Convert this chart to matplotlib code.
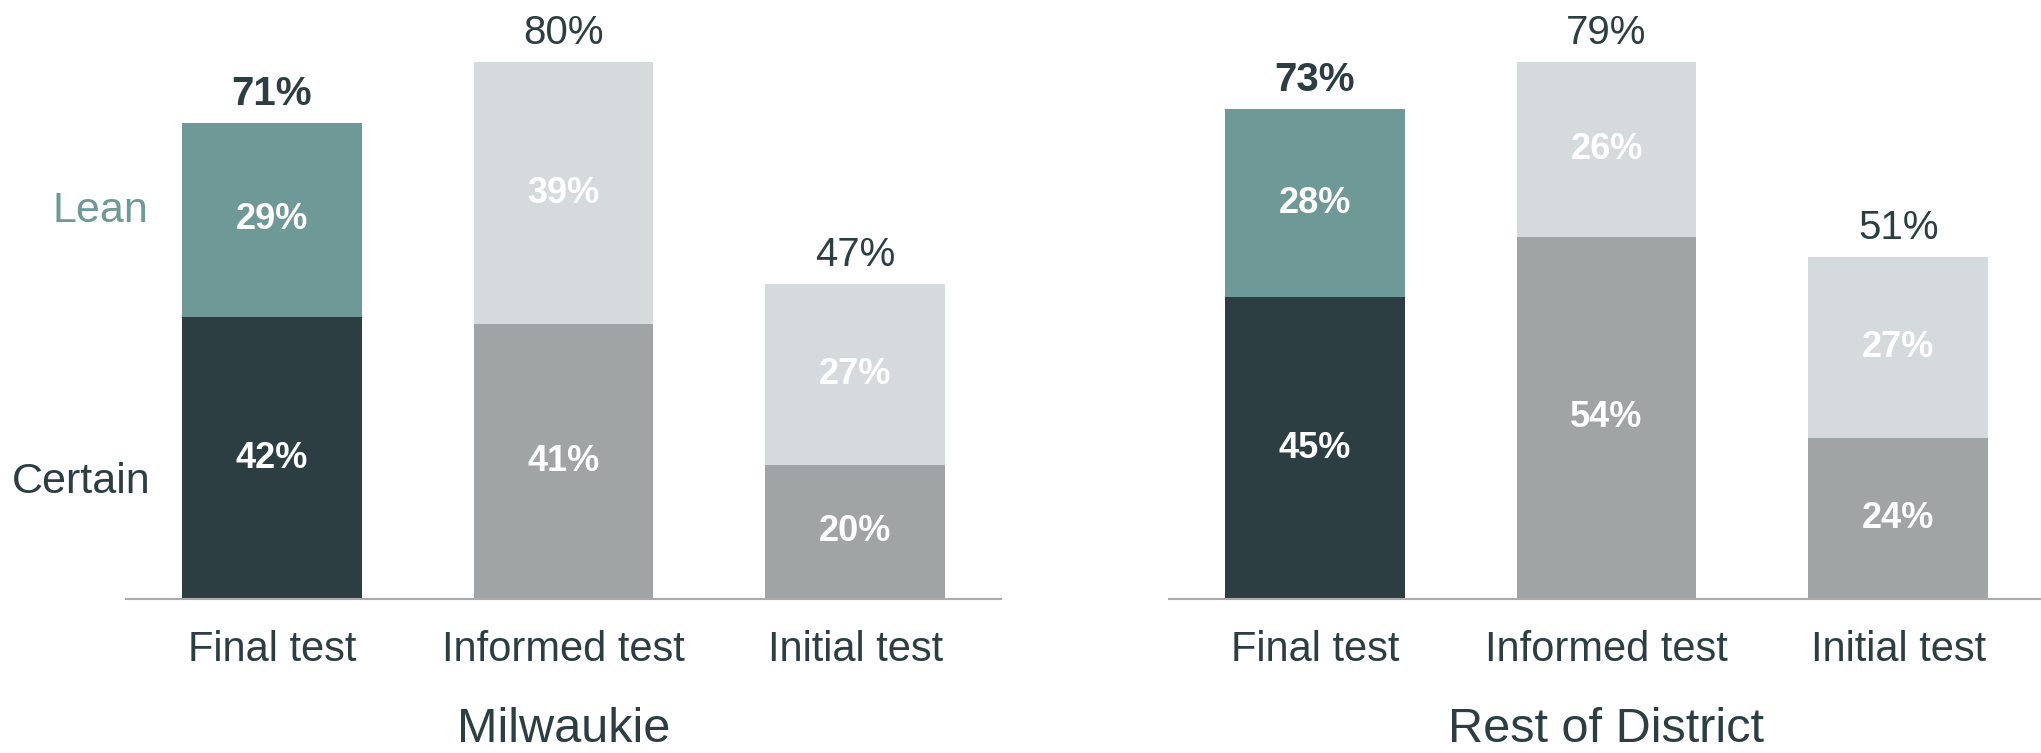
import matplotlib
matplotlib.use('Agg')
import matplotlib.pyplot as plt
import numpy as np

# dados
categorias = ['Final test', 'Informed test', 'Initial test']
grupos = ['Milwaukie', 'Rest of District']
certain_mil = [42, 41, 20]
lean_mil = [29, 39, 27]
total_mil = [71, 80, 47]
certain_rest = [45, 54, 24]
lean_rest = [28, 26, 27]
total_rest = [73, 79, 51]

escuro = '#2C3E42'
teal = '#6E9996'
cinza = '#A0A4A5'
cinza_claro = '#D5DADC'

plt.rcParams['font.family'] = ['Liberation Sans', 'DejaVu Sans']

W, H = 2041, 753
fig = plt.figure(figsize=(W / 100, H / 100), dpi=100)

base = 599  # linha de base em px a partir do topo
ymax = base / 6.71

def painel(x0, x1, certain, lean, total, titulo):
    ax = fig.add_axes([x0 / W, (H - base) / H, (x1 - x0) / W, base / H])
    x = np.arange(len(categorias))
    cor_c = [escuro, cinza, cinza]
    cor_l = [teal, cinza_claro, cinza_claro]
    ax.bar(x, certain, width=0.617, color=cor_c)
    ax.bar(x, lean, bottom=certain, width=0.617, color=cor_l)
    for i in x:
        ax.text(i, certain[i] / 2, f'{certain[i]}%', ha='center', va='center',
                color='white', fontsize=26, fontweight='bold')
        ax.text(i, certain[i] + lean[i] / 2, f'{lean[i]}%', ha='center', va='center',
                color='white', fontsize=26, fontweight='bold')
        ax.annotate(f'{total[i]}%', (i, certain[i] + lean[i]), xytext=(0, 7),
                    textcoords='offset points', ha='center', va='bottom',
                    color=escuro, fontsize=29,
                    fontweight='bold' if i == 0 else 'normal')
    ax.set_xlim(-0.5, 2.5)
    ax.set_ylim(0, ymax)
    ax.set_xticks(x)
    ax.set_xticklabels(categorias, fontsize=30, color=escuro)
    ax.tick_params(axis='x', length=0, pad=22)
    ax.set_yticks([])
    for s in ['top', 'right', 'left']:
        ax.spines[s].set_visible(False)
    ax.spines['bottom'].set_color('#A9ACAE')
    ax.spines['bottom'].set_linewidth(1.5)
    ax.set_xlabel(titulo, fontsize=35, color=escuro, labelpad=27)
    ax.patch.set_visible(False)
    return ax

painel(126, 1001, certain_mil, lean_mil, total_mil, grupos[0])
painel(1169, 2044, certain_rest, lean_rest, total_rest, grupos[1])

fig.text(148 / W, 1 - 211 / H, 'Lean', ha='right', va='center', fontsize=31, color=teal)
fig.text(150 / W, 1 - 482 / H, 'Certain', ha='right', va='center', fontsize=31, color=escuro)

fig.savefig('out.png', dpi=100, facecolor='white')
